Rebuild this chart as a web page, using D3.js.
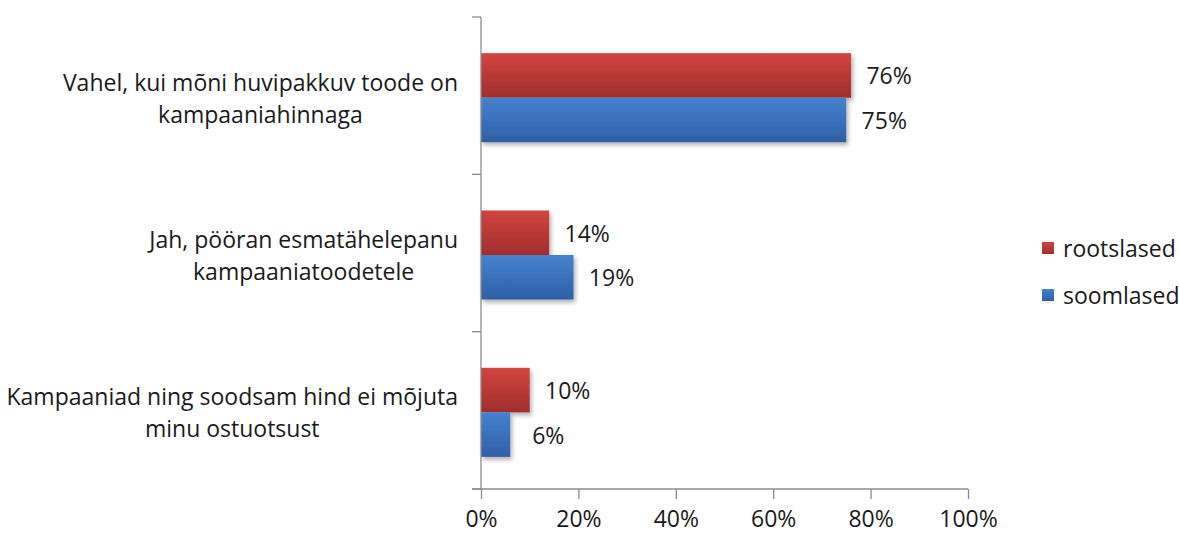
<!DOCTYPE html>
<html>
<head>
<meta charset="utf-8">
<script src="https://cdn.jsdelivr.net/npm/d3@7"></script>
<style>
  html, body { margin: 0; padding: 0; background: #fff; }
  svg { display: block; }
  text { font-family: "Open Sans", "Noto Sans", sans-serif; fill: #1a1a1a; }
</style>
</head>
<body>
<svg id="chart" width="1179" height="534"></svg>
<script>
// Survey answers: does a discount campaign influence the purchase decision?
const categories = [
  ["Vahel, kui mõni huvipakkuv toode on", "kampaaniahinnaga"],
  ["Jah, pööran esmatähelepanu", "kampaaniatoodetele"],
  ["Kampaaniad ning soodsam hind ei mõjuta", "minu ostuotsust"]
];
const seriesNames = ["rootslased", "soomlased"];
const rootslased = [76, 14, 10];
const soomlased = [75, 19, 6];
const xTicks = [0, 20, 40, 60, 80, 100];

const seriesValues = [rootslased, soomlased];
const palette = {
  rootslased: { top: "#d2453f", bottom: "#a02d2c" },
  soomlased:  { top: "#4582d0", bottom: "#2f5fa5" }
};
const fontSize = 23;

const svg = d3.select("#chart");
const plot = { left: 481, right: 968, top: 17, bottom: 489 };

const x = d3.scaleLinear().domain([0, 100]).range([plot.left, plot.right]);
const y = d3.scaleBand().domain(d3.range(categories.length)).range([plot.top, plot.bottom]).padding(0);

const groupH = y.bandwidth() * 0.566;
const inner = d3.scaleBand().domain(seriesNames).range([0, groupH]).padding(0);
const groupOffset = (y.bandwidth() - groupH) / 2 + 2;

// gradients and bar shadow
const defs = svg.append("defs");
seriesNames.forEach(name => {
  const g = defs.append("linearGradient")
    .attr("id", "grad-" + name)
    .attr("x1", 0).attr("y1", 0).attr("x2", 0).attr("y2", 1);
  g.append("stop").attr("offset", "0%").attr("stop-color", palette[name].top);
  g.append("stop").attr("offset", "100%").attr("stop-color", palette[name].bottom);
});
const shadow = defs.append("filter").attr("id", "barShadow")
  .attr("x", "-10%").attr("y", "-20%").attr("width", "130%").attr("height", "150%");
shadow.append("feDropShadow")
  .attr("dx", 2).attr("dy", 3).attr("stdDeviation", 2.2)
  .attr("flood-color", "#000").attr("flood-opacity", 0.3);

// bars
seriesNames.forEach((name, si) => {
  svg.append("g").selectAll("rect")
    .data(seriesValues[si])
    .join("rect")
    .attr("x", x(0))
    .attr("y", (d, i) => y(i) + groupOffset + inner(name))
    .attr("width", d => x(d) - x(0))
    .attr("height", inner.bandwidth())
    .attr("fill", `url(#grad-${name})`)
    .attr("filter", "url(#barShadow)");
});

// value labels
seriesNames.forEach((name, si) => {
  svg.append("g").selectAll("text")
    .data(seriesValues[si])
    .join("text")
    .attr("x", d => x(d) + 38)
    .attr("y", (d, i) => y(i) + groupOffset + inner(name) + inner.bandwidth() / 2)
    .attr("text-anchor", "middle")
    .attr("dominant-baseline", "central")
    .attr("font-size", fontSize)
    .text(d => d + "%");
});

// axes
const axisColor = "#8c8c8c";
const xAxis = svg.append("g")
  .attr("transform", `translate(0,${plot.bottom})`)
  .call(d3.axisBottom(x).tickValues(xTicks).tickSize(10).tickPadding(12).tickFormat(d => d + "%"));
xAxis.select(".domain").remove();
xAxis.selectAll(".tick line").attr("stroke", axisColor).attr("stroke-width", 1.3);
xAxis.selectAll(".tick text").attr("font-size", fontSize).attr("fill", "#1a1a1a")
  .attr("font-family", "Open Sans, Noto Sans, sans-serif");
svg.append("line")
  .attr("x1", plot.left - 9).attr("x2", plot.right)
  .attr("y1", plot.bottom).attr("y2", plot.bottom)
  .attr("stroke", axisColor).attr("stroke-width", 1.3);

const yEdges = d3.range(categories.length + 1).map(i => i < categories.length ? y(i) : plot.bottom);
svg.append("line")
  .attr("x1", plot.left).attr("x2", plot.left)
  .attr("y1", plot.top).attr("y2", plot.bottom)
  .attr("stroke", axisColor).attr("stroke-width", 1.3);
svg.append("g").selectAll("line")
  .data(yEdges)
  .join("line")
  .attr("x1", plot.left - 9).attr("x2", plot.left)
  .attr("y1", d => d).attr("y2", d => d)
  .attr("stroke", axisColor).attr("stroke-width", 1.3);

// category labels: each two-line block centred on itself, block right edge near the axis
const labelRight = 458;
const lineGap = 32;
categories.forEach((lines, i) => {
  const cy = y(i) + groupOffset + groupH / 2;
  const g = svg.append("g");
  const texts = lines.map((ln, k) => g.append("text")
    .attr("font-size", fontSize)
    .attr("y", cy + (k - (lines.length - 1) / 2) * lineGap)
    .attr("dominant-baseline", "central")
    .attr("text-anchor", "middle")
    .text(ln));
  const maxW = d3.max(texts, t => t.node().getComputedTextLength());
  texts.forEach(t => t.attr("x", labelRight - maxW / 2));
});

// legend
const legend = svg.append("g");
seriesNames.forEach((name, i) => {
  const ly = 248 + i * 47;
  legend.append("rect")
    .attr("x", 1042).attr("y", ly - 6)
    .attr("width", 12).attr("height", 12)
    .attr("fill", `url(#grad-${name})`);
  legend.append("text")
    .attr("x", 1063).attr("y", ly)
    .attr("dominant-baseline", "central")
    .attr("font-size", fontSize)
    .text(name);
});
</script>
</body>
</html>
